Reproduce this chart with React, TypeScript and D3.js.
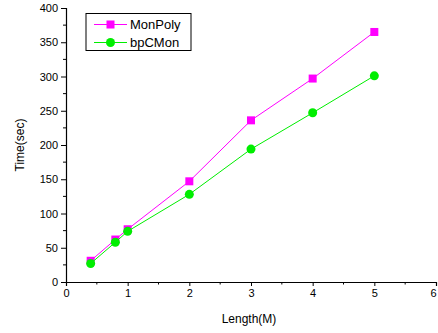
import React, { useRef, useEffect } from "react";
import * as d3 from "d3";

const lengths = [0.4, 0.8, 1, 2, 3, 4, 5];
const monPoly = [31, 62, 77, 147, 236, 297, 365];
const bpCMon = [27, 58, 74, 128, 194, 247, 301];
const xTicks = [0, 1, 2, 3, 4, 5, 6];
const yTicks = [0, 50, 100, 150, 200, 250, 300, 350, 400];

const series = [
  { name: "MonPoly", values: monPoly, color: "#ff00ff", shape: "square" },
  { name: "bpCMon", values: bpCMon, color: "#00ee00", shape: "circle" },
];

const App = () => {
  const svgRef = useRef<SVGSVGElement>(null);

  useEffect(() => {
    const width = 438, height = 333;
    const margin = { top: 8, right: 2, bottom: 51, left: 66 };
    const font = "'Liberation Sans', Arial, sans-serif";

    const svg = d3.select(svgRef.current)
      .attr("width", width)
      .attr("height", height)
      .style("display", "block")
      .style("background", "#fff");
    svg.selectAll("*").remove();

    const x = d3.scaleLinear().domain([0, 6]).range([margin.left, width - margin.right]);
    const y = d3.scaleLinear().domain([0, 400]).range([height - margin.bottom, margin.top]);

    // minor ticks
    const xMinor = d3.range(0.5, 6, 1);
    const yMinor = d3.range(25, 400, 50);

    const xAxis = svg.append("g")
      .attr("transform", `translate(0,${height - margin.bottom})`);
    xAxis.call(d3.axisBottom(x).tickValues(xTicks).tickFormat(d3.format("d")).tickSize(4).tickPadding(3) as any);
    xAxis.append("g").selectAll("line").data(xMinor).join("line")
      .attr("x1", d => x(d)).attr("x2", d => x(d))
      .attr("y1", 0).attr("y2", 2.5).attr("stroke", "#000");
    // keep the last label inside the picture
    xAxis.selectAll(".tick text").filter((d: any) => d === 6).attr("dx", "-3");

    const yAxis = svg.append("g")
      .attr("transform", `translate(${margin.left},0)`);
    yAxis.call(d3.axisLeft(y).tickValues(yTicks).tickFormat(d3.format("d")).tickSize(5).tickPadding(3) as any);
    yAxis.append("g").selectAll("line").data(yMinor).join("line")
      .attr("y1", d => y(d)).attr("y2", d => y(d))
      .attr("x1", 0).attr("x2", -3).attr("stroke", "#000");

    svg.selectAll(".domain").attr("stroke", "#000").attr("stroke-width", 1.2);
    svg.selectAll(".tick line").attr("stroke", "#000");
    svg.selectAll(".tick text")
      .style("font-family", font)
      .style("font-size", "11px")
      .attr("fill", "#000");

    // Axis labels
    svg.append("text")
      .attr("x", (x(0) + x(6)) / 2 - 2)
      .attr("y", height - 10)
      .attr("text-anchor", "middle")
      .style("font-family", font)
      .style("font-size", "12px")
      .text("Length(M)");

    svg.append("text")
      .attr("transform", `translate(24,${(y(0) + y(400)) / 2}) rotate(-90)`)
      .attr("text-anchor", "middle")
      .style("font-family", font)
      .style("font-size", "12px")
      .text("Time(sec)");

    const drawMarker = (g: any, shape: string, color: string, cx: number, cy: number) => {
      if (shape === "square") {
        g.append("rect")
          .attr("x", cx - 4).attr("y", cy - 4)
          .attr("width", 8).attr("height", 8)
          .attr("fill", color);
      } else {
        g.append("circle")
          .attr("cx", cx).attr("cy", cy).attr("r", 4.5)
          .attr("fill", color);
      }
    };

    series.forEach(s => {
      const line = d3.line<number>()
        .x((_, i) => x(lengths[i]))
        .y(d => y(d));
      svg.append("path")
        .datum(s.values)
        .attr("fill", "none")
        .attr("stroke", s.color)
        .attr("stroke-width", 1)
        .attr("d", line);
      const g = svg.append("g");
      s.values.forEach((v, i) => drawMarker(g, s.shape, s.color, x(lengths[i]), y(v)));
    });

    // Legend
    const legend = svg.append("g");
    legend.append("rect")
      .attr("x", 86).attr("y", 13.5)
      .attr("width", 105).attr("height", 37)
      .attr("fill", "#fff")
      .attr("stroke", "#000")
      .attr("stroke-width", 1);
    series.forEach((s, i) => {
      const ly = 24.5 + i * 18;
      legend.append("line")
        .attr("x1", 94).attr("x2", 127)
        .attr("y1", ly).attr("y2", ly)
        .attr("stroke", s.color).attr("stroke-width", 1);
      drawMarker(legend, s.shape, s.color, 110.5, ly);
      legend.append("text")
        .attr("x", 130).attr("y", ly + 4.5)
        .style("font-family", font)
        .style("font-size", "13px")
        .text(s.name);
    });
  }, []);

  return (
    <div style={{ position: "absolute", left: 0, top: 0 }}>
      <svg ref={svgRef}></svg>
    </div>
  );
};

export default App;
